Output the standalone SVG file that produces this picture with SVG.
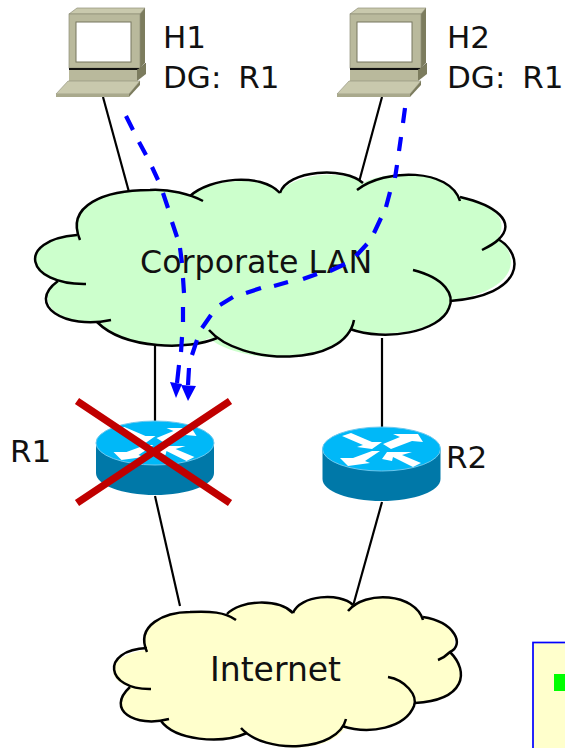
<svg xmlns="http://www.w3.org/2000/svg" xmlns:xlink="http://www.w3.org/1999/xlink" width="565" height="748" viewBox="0 0 565 748">
<style>
text{font-family:"DejaVu Sans",Verdana,sans-serif;font-size:31px;fill:#111}
.dg{word-spacing:7px}
.link{stroke:#000;stroke-width:2.200;fill:none}
.arc{fill:none;stroke:#000;stroke-width:2.500}
.dash{fill:none;stroke:#0000ff;stroke-width:4.200}
.x{stroke:#c00000;stroke-width:7.500}
.a{fill:#fff}
.head{fill:#0000ff}
</style>
<defs>
<g id="pc">
<path d="M69 14L77 8H145L140 14Z" fill="#c9c9ad" stroke="#8f8f78" stroke-width=".7"/>
<path d="M140 14L145 8V63L140 68Z" fill="#7c7c5e"/>
<rect x="69" y="14" width="71" height="54" fill="#b9b99c" stroke="#8f8f78" stroke-width=".7"/>
<rect x="76" y="22" width="55" height="40" fill="#fff" stroke="#77775f"/>
<path d="M69 68H140L146 63V65L137 70H69Z" fill="#111"/>
<path d="M69 70H137V81H69Z" fill="#b9b99c"/>
<path d="M137 70L146 63V74L137 81Z" fill="#7c7c5e"/>
<path d="M56 94L68 81H140L129 94Z" fill="#c9c9ad" stroke="#8f8f78" stroke-width=".6"/>
<path d="M129 94L140 81V85L129 97Z" fill="#7c7c5e"/>
<rect x="56" y="94" width="73" height="3" fill="#a9a98c"/>
</g>
<g id="router">
<path d="M96 443V473C96 485 122 495 155 495S214 485 214 473V443Z" fill="#0078a8"/>
<ellipse cx="155" cy="443" rx="59" ry="22" fill="#00b8f8" stroke="#6cc8ee" stroke-width="1"/>
<path class="a" d="M115.500 430L124.500 427L145.500 436H155.500L145.500 443L130.500 441L136.500 439Z"/>
<path class="a" d="M156.500 438L173.500 431L166.500 428H191.500L196.500 436L185.500 435L164.500 443Z"/>
<path class="a" d="M113.500 452L126.500 452L145.500 445H153.500L138.500 455L143.500 457L121.500 460Z"/>
<path class="a" d="M155.500 453L160.500 446H185.500L175.500 449L194.500 457L186.500 461L166.500 451L165.500 455Z"/>
</g>
</defs>
<rect width="565" height="748" fill="#fff"/>
<g id="connectors">
<path class="link" d="M103 97L129 192"/>
<path class="link" d="M382 97L359 182"/>
<path class="link" d="M155 345V421"/>
<path class="link" d="M382 338V428"/>
<path class="link" d="M155 496L180 606"/>
<path class="link" d="M382 502L353 606"/>
</g>
<g id="corporate-lan">
<path fill="#ccffcc" d="M77 235C70 205 105 190 150 190C165 190 180 192 190 196C205 182 260 172 280 193C295 172 345 170 363 183C385 170 445 170 460 197C490 205 510 215 498 239C520 255 520 290 450 301C455 325 395 342 350 329C335 365 240 365 209 338C190 350 125 350 97 322C65 325 30 305 58 281C25 275 25 240 77 235Z"/>
<path class="arc" d="M80 240C65 205 105 190 150 190C170 189 190 194 203 201"/>
<path class="arc" d="M190 196C210 178 260 172 280 193"/>
<path class="arc" d="M280 193C287 170 345 166 363 183"/>
<path class="arc" d="M357 190C385 168 450 168 460 201"/>
<path class="arc" d="M460 197C495 205 518 222 498 240C494 244 488 247 482 250"/>
<path class="arc" d="M498 239C525 255 525 295 450 301"/>
<path class="arc" d="M413 270C445 278 455 295 449 308C440 332 385 342 350 329"/>
<path class="arc" d="M354 320C345 368 240 366 209 330"/>
<path class="arc" d="M217 338C190 350 125 350 97 322"/>
<path class="arc" d="M111 320C65 330 25 305 58 281"/>
<path class="arc" d="M86 284C25 285 15 240 77 235"/>
<text x="140" y="273" style="font-size:31.700px">Corporate LAN</text>
</g>
<g id="internet">
<path fill="#ffffcc" d="M147 652C135 625 165 612 190 612C205 612 218 613 227 614C240 600 278 598 293 613C305 595 340 595 353 605C370 592 415 595 423 617C450 622 462 640 450 652C470 670 465 700 415 703C415 722 375 735 346 726C330 755 265 752 247 733C220 745 175 740 161 721C135 725 105 710 130 687C105 680 105 655 147 650Z"/>
<path class="arc" d="M147 652C135 625 165 612 190 612C210 611 225 612 236 620"/>
<path class="arc" d="M227 614C240 600 278 598 293 613"/>
<path class="arc" d="M293 613C300 595 340 592 353 605"/>
<path class="arc" d="M348 611C365 590 415 593 423 620"/>
<path class="arc" d="M423 617C455 622 465 645 450 652C447 655 443 658 438 660"/>
<path class="arc" d="M450 652C470 672 465 700 415 703"/>
<path class="arc" d="M388 677C405 680 418 695 414 706C405 728 370 735 342 726"/>
<path class="arc" d="M346 719C338 752 265 755 241 728"/>
<path class="arc" d="M247 733C220 745 175 740 161 721"/>
<path class="arc" d="M169 719C135 728 105 710 130 687"/>
<path class="arc" d="M151 689C105 690 100 650 147 648"/>
<text x="210" y="681" style="font-size:33px">Internet</text>
</g>
<g id="h1"><use xlink:href="#pc" href="#pc"/><text x="163" y="48">H1</text><text class="dg" x="163" y="88">DG: R1</text></g>
<g id="h2"><use xlink:href="#pc" href="#pc" x="281"/><text x="447" y="48">H2</text><text class="dg" x="447" y="88">DG: R1</text></g>
<g id="r1"><use xlink:href="#router" href="#router"/><text x="10" y="462">R1</text></g>
<g id="r2"><use xlink:href="#router" href="#router" x="226.500" y="6"/><text x="446" y="468">R2</text></g>
<g id="flows">
<path class="dash" d="M126 116L133 130M139 142L146 155M152 167L158 180M163 193L168 208M172 222L177 237M180 248L182 263M183 278L184 293M183 307L183 322M182 337L181 352M179 365L177 383"/>
<path class="head" d="M170 382L182 384L176 398Z"/>
<path class="dash" d="M405 108L403 123M401 137L399 151M397 165L395 178M390 192L386 207M381 218L374 233M367 244L356 256M345 264L330 271M317 274L303 279M288 282L274 286M261 288L246 293M233 297L220 305M211 315L202 328M197 340L192 355M189 368L188 385"/>
<path class="head" d="M181 385L196 386L188 401Z"/>
</g>
<g id="failure"><path class="x" d="M77 401L230 503M230 401L77 503"/></g>
<g id="legend"><rect x="533" y="642.500" width="40" height="120" fill="#ffffcc" stroke="#0000ff" stroke-width="1.700"/><rect x="554" y="674" width="20" height="17" fill="#00ff00"/></g>
</svg>
